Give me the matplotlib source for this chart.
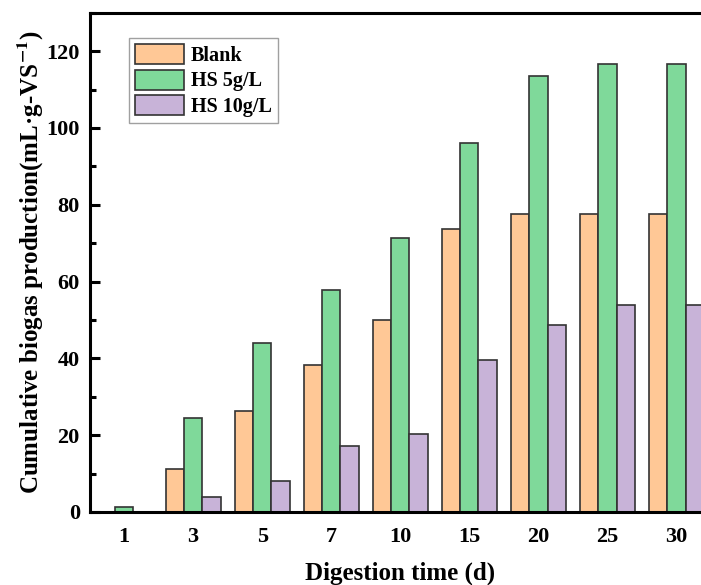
import numpy as np
import matplotlib
matplotlib.use("Agg")
import matplotlib.pyplot as plt
from matplotlib.ticker import MultipleLocator

plt.rcParams['font.family'] = ['Liberation Serif', 'DejaVu Serif']
plt.rcParams['font.weight'] = 'bold'
plt.rcParams['mathtext.fontset'] = 'stix'

days = ['1', '3', '5', '7', '10', '15', '20', '25', '30']
blank = [0, 11.2, 26.4, 38.4, 50.0, 73.6, 77.7, 77.7, 77.7]
hs5 = [1.4, 24.6, 44.1, 57.9, 71.4, 96.2, 113.5, 116.7, 116.7]
hs10 = [0, 4.0, 8.1, 17.2, 20.4, 39.6, 48.8, 53.8, 53.8]

series = [('Blank', blank, '#FFC896'),
          ('HS 5g/L', hs5, '#7FD99A'),
          ('HS 10g/L', hs10, '#C8B3D8')]

fig = plt.figure(figsize=(7.01, 5.85), dpi=100)
ax = fig.add_axes([0.1277, 0.1248, 0.8866, 0.8535])

x = np.arange(len(days))
w = 0.265
for i, (name, vals, col) in enumerate(series):
    ax.bar(x + (i - 1) * w, vals, width=w, color=col, edgecolor='#333333',
           linewidth=1.2, label=name)

ax.set_xlim(-0.5, len(days) - 0.5)
ax.set_ylim(0, 130)
ax.set_xticks(x)
ax.set_xticklabels(days)
ax.yaxis.set_major_locator(MultipleLocator(20))
ax.yaxis.set_minor_locator(MultipleLocator(10))
ax.tick_params(axis='y', which='major', direction='in', length=7.5, width=2.2,
               labelsize=16, pad=7)
ax.tick_params(axis='y', which='minor', direction='in', length=4.5, width=2.2)
ax.tick_params(axis='x', length=0, labelsize=16, pad=11)
for s in ax.spines.values():
    s.set_linewidth(2.2)

ax.set_xlabel('Digestion time (d)', fontsize=18, fontweight='bold', labelpad=10)
ax.set_ylabel('Cumulative biogas production(mL\u00b7g-VS$^{\\mathbf{-1}}$)',
              fontsize=18, fontweight='bold', labelpad=0)

leg = ax.legend(loc='upper left', bbox_to_anchor=(0.064, 0.95), fontsize=14.5,
                frameon=True, fancybox=False, edgecolor='#888888',
                handlelength=2.4, handleheight=1.15, labelspacing=0.2,
                handletextpad=0.35, borderpad=0.3, borderaxespad=0)
leg.get_frame().set_linewidth(1.0)

fig.savefig('out.png', dpi=100)
